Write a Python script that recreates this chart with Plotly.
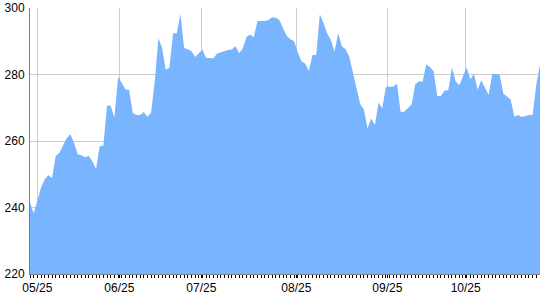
import plotly.graph_objects as go

values = [
    241.4, 238.3, 242.0, 246.0, 248.4, 249.8, 248.8, 255.5, 256.5, 258.5,
    260.8, 262.0, 259.5, 256.0, 255.7, 255.1, 255.6, 253.8, 251.6, 258.5,
    258.6, 270.7, 270.6, 267.1, 279.2, 277.5, 275.5, 275.4, 268.5, 267.8,
    267.8, 268.7, 267.3, 268.5, 278.0, 291.0, 288.0, 281.4, 282.0, 292.4,
    292.4, 298.2, 288.0, 287.6, 287.0, 285.3, 286.5, 287.5, 285.0, 284.9,
    284.9, 286.3, 286.7, 287.0, 287.4, 287.5, 288.5, 286.4, 287.9, 291.3,
    292.0, 291.2, 296.1, 296.1, 296.1, 296.4, 297.2, 297.1, 296.3, 293.8,
    291.6, 290.6, 290.0, 286.6, 284.0, 283.2, 281.1, 285.9, 285.9, 298.1,
    295.5, 292.3, 290.4, 286.9, 292.4, 288.5, 287.6, 285.4, 280.8, 275.8,
    271.1, 269.5, 263.8, 266.8, 264.8, 271.6, 269.8, 276.3, 276.3, 276.3,
    277.3, 268.8, 268.8, 269.8, 271.0, 277.1, 278.0, 277.8, 283.1, 282.2,
    281.0, 273.5, 273.5, 275.2, 275.3, 282.1, 278.0, 276.8, 279.5, 282.1,
    278.6, 280.2, 275.5, 278.3, 276.0, 273.8, 280.2, 280.2, 280.0, 274.3,
    273.5, 272.5, 267.3, 267.8, 267.2, 267.6, 267.8, 267.8, 277.0, 283.1,
]
x_index = list(range(len(values)))

tick_positions = [2.0, 24.34, 46.69, 72.58, 97.39, 118.74]
tick_labels = ["05/25", "06/25", "07/25", "08/25", "09/25", "10/25"]
y_ticks = [220, 240, 260, 280, 300]

fig = go.Figure()
fig.add_trace(go.Scatter(
    x=x_index, y=values, mode="lines",
    line=dict(width=0, color="#79B4FF"),
    fill="tozeroy", fillcolor="#79B4FF",
    hoverinfo="skip",
))

fig.update_layout(
    width=540, height=300,
    margin=dict(l=30, r=0, t=8, b=26),
    paper_bgcolor="white", plot_bgcolor="white",
    showlegend=False,
    font=dict(family="Liberation Sans, Arial, sans-serif", size=12, color="black"),
    xaxis=dict(
        range=[0, len(values) - 1],
        tickmode="array", tickvals=tick_positions, ticktext=tick_labels,
        showgrid=True, gridcolor="#CCCCCC", gridwidth=1,
        ticks="outside", ticklen=3, tickcolor="black", tickwidth=1,
        minor=dict(dtick=1, tick0=0, ticks="outside", ticklen=3,
                   tickcolor="black", tickwidth=1, showgrid=False),
        showline=True, linecolor="#808080", linewidth=1,
        zeroline=False, fixedrange=True,
    ),
    yaxis=dict(
        range=[220, 300],
        tickmode="array", tickvals=y_ticks,
        showgrid=True, gridcolor="#CCCCCC", gridwidth=1,
        ticks="", showline=True, linecolor="#808080", linewidth=1,
        zeroline=False, fixedrange=True, ticklabelstandoff=2,
    ),
)

fig.write_html("out.html")
